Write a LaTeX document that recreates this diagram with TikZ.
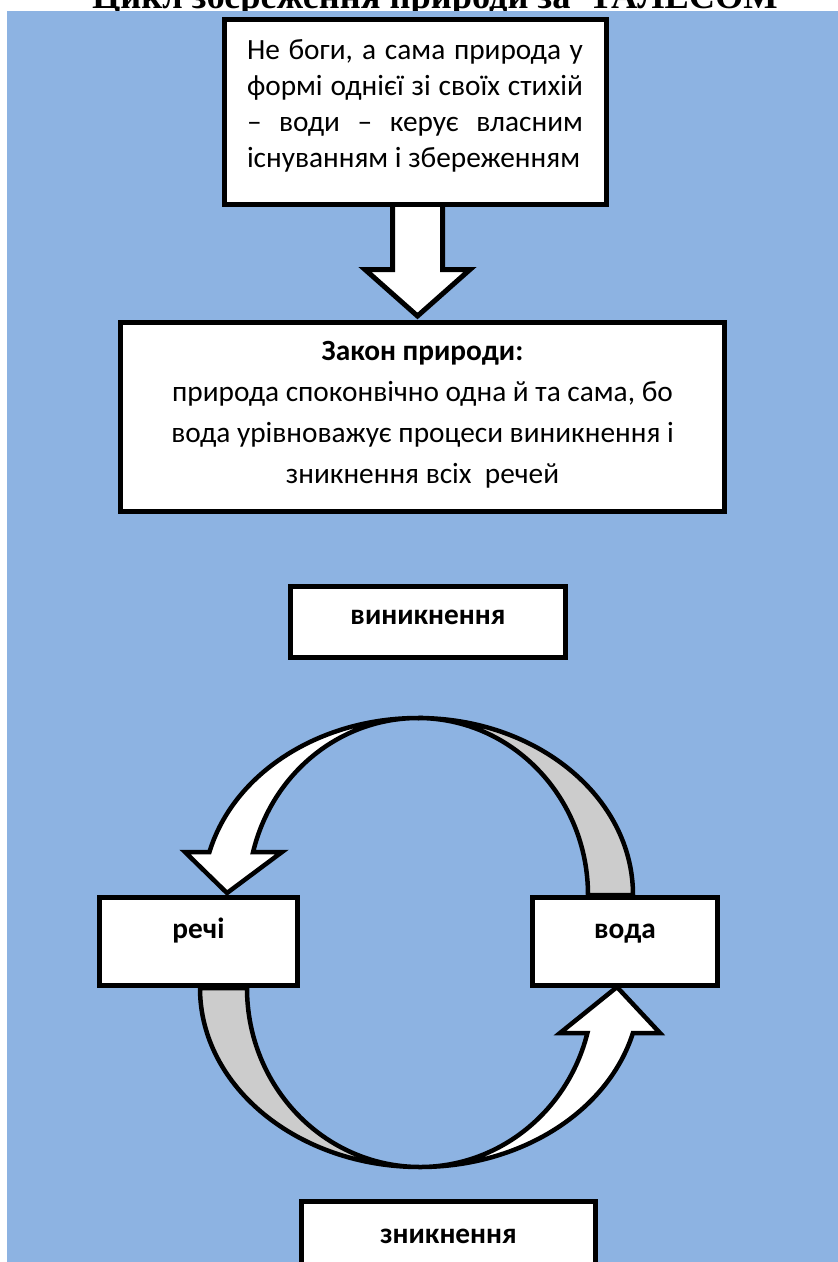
\documentclass[tikz,border=0pt]{standalone}
\usepackage{fontspec}
\setmainfont{Carlito}
\newfontfamily\titlefont{Liberation Serif}
\definecolor{bgblue}{RGB}{141,179,226}
\definecolor{bandgrey}{RGB}{204,204,204}
\begin{document}
\begin{tikzpicture}[x=1pt,y=1pt,
  box/.style={draw=black, line width=5pt, fill=white, inner sep=0pt},
  band/.style={draw=black, line width=4.5pt, line join=miter, miter limit=4},
  body/.style={font=\fontsize{29.33}{36}\selectfont, anchor=base, inner sep=0pt},
  lbl/.style={font=\bfseries\fontsize{29.33}{36}\selectfont, anchor=base, inner sep=0pt}]
\useasboundingbox (0,0) rectangle (838,-1262);
\clip (0,0) rectangle (838,-1262);
\node[font=\titlefont\bfseries\fontsize{36.4}{40}\selectfont, anchor=base, inner sep=0pt] (title) at (435,-8) {Цикл збереження природи за\ \ ТАЛЕСОМ};
\fill[bgblue] (7,-11) rectangle (838,-1262);

% block arrow from the top box to the law box
\draw[line width=5pt, fill=white, line join=miter] (392.5,-200) -- (392.5,-269.5) -- (365,-269.5) -- (417.5,-316) -- (470,-269.5) -- (442.5,-269.5) -- (442.5,-200) -- cycle;

\node[box, minimum width=382pt, minimum height=185pt] (top) at (415.5,-112) {};
\node[body] (top1) at (415,-59) {\makebox[336pt][s]{Не боги, а сама природа у}};
\node[body] (top2) at (415,-95) {\makebox[336pt][s]{формі однієї зі своїх стихій}};
\node[body] (top3) at (415,-131) {\makebox[336pt][s]{– води – керує власним}};
\node[body] (top4) at (415,-167) {\makebox[336pt][l]{існуванням і збереженням}};

\node[box, minimum width=604pt, minimum height=189pt] (law) at (422.5,-417) {};
\node[lbl] (law1) at (422.5,-360) {Закон природи:};
\node[body] (law2) at (422.5,-401) {природа споконвічно одна й та сама, бо};
\node[body] (law3) at (422.5,-442) {вода урівноважує процеси виникнення і};
\node[body] (law4) at (422.5,-483) {зникнення всіх\ \ речей};

\node[box, minimum width=275pt, minimum height=71pt] (born) at (428,-622) {};
\node[lbl] (bornt) at (428,-624) {виникнення};

% upper curved arrow: from water over the top to things
\filldraw[band, fill=bandgrey] (633,-895) arc[start angle=0, end angle=90, x radius=215pt, y radius=177pt]
  arc[start angle=90, end angle=0, x radius=170pt, y radius=177pt] -- cycle;
\filldraw[band, fill=white] (418,-718) arc[start angle=90, end angle=165.94, x radius=215pt, y radius=177pt]
  -- (185,-852) -- (227,-893) -- (282,-852) -- (253.1,-852)
  arc[start angle=165.94, end angle=90, x radius=170pt, y radius=177pt] -- cycle;

% lower curved arrow: from things under the bottom to water
\filldraw[band, fill=bandgrey] (200,-988) arc[start angle=180, end angle=270, x radius=220pt, y radius=179pt]
  arc[start angle=270, end angle=180, x radius=173pt, y radius=179pt] -- cycle;
\filldraw[band, fill=white] (420,-1167) arc[start angle=270, end angle=345.44, x radius=220pt, y radius=179pt]
  -- (660,-1033) -- (617,-987) -- (560,-1033) -- (587.4,-1033)
  arc[start angle=345.44, end angle=270, x radius=173pt, y radius=179pt] -- cycle;

\node[box, minimum width=198pt, minimum height=88pt] (things) at (198.5,-941.5) {};
\node[lbl] (thingst) at (198.5,-938) {речі};
\node[box, minimum width=185pt, minimum height=88pt] (water) at (625,-941.5) {};
\node[lbl] (watert) at (625,-938) {вода};

\node[box, minimum width=294pt, minimum height=90pt] (gone) at (448.5,-1246.5) {};
\node[lbl] (gonet) at (448.5,-1243) {зникнення};
\end{tikzpicture}
\end{document}
